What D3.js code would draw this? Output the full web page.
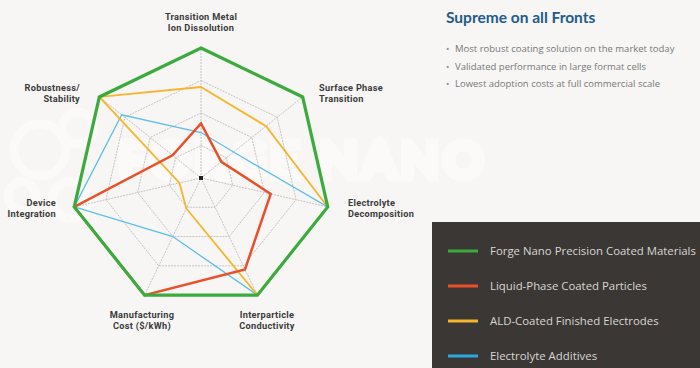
<!DOCTYPE html>
<html>
<head>
<meta charset="utf-8">
<script src="https://cdn.jsdelivr.net/npm/d3@7"></script>
<style>
  html, body { margin: 0; padding: 0; background: #f7f6f4; }
  #chart { width: 700px; height: 368px; }
</style>
</head>
<body>
<div id="chart"></div>
<script>
// Axes, clockwise from the top
const axes = [
    ["Transition Metal", "Ion Dissolution"],
    ["Surface Phase", "Transition"],
    ["Electrolyte", "Decomposition"],
    ["Interparticle", "Conductivity"],
    ["Manufacturing", "Cost ($/kWh)"],
    ["Device", "Integration"],
    ["Robustness/", "Stability"]
];

const seriesNames = [
    "Forge Nano Precision Coated Materials",
    "Liquid-Phase Coated Particles",
    "ALD-Coated Finished Electrodes",
    "Electrolyte Additives"
];
const seriesColors = ["#3aab3c", "#e9502a", "#f6b52a", "#5cbfe8"];

// Values on a 0-100 scale, one per axis
const forgeValues = [100, 100, 100, 100, 100, 100, 100];
const liquidValues = [42, 20, 55, 78, 100, 100, 28];
const aldValues = [70, 64, 100, 100, 26, 17, 100];
const electrolyteValues = [35, 32, 100, 100, 50, 100, 78];

const gridLevels = [25, 50, 75, 100];

const bullets = [
    "Most robust coating solution on the market today",
    "Validated performance in large format cells",
    "Lowest adoption costs at full commercial scale"
];

const width = 700, height = 368;
const cx = 201, cy = 178, radius = 130;

const svg = d3.select("#chart")
    .append("svg")
    .attr("width", width)
    .attr("height", height)
    .style("display", "block");

svg.append("rect")
    .attr("width", width)
    .attr("height", height)
    .attr("fill", "#f7f6f4");

// faint watermark
const wm = svg.append("g").attr("opacity", 0.5);
[[40, 150, 26], [78, 128, 16], [22, 196, 14], [70, 200, 18]].forEach(c => {
    wm.append("circle").attr("cx", c[0]).attr("cy", c[1]).attr("r", c[2])
        .attr("fill", "none").attr("stroke", "#ffffff").attr("stroke-width", 9);
});
wm.append("text")
    .attr("x", 118)
    .attr("y", 178)
    .attr("fill", "none")
    .attr("stroke", "#ffffff")
    .attr("stroke-width", 7)
    .style("font-family", "Lato, sans-serif")
    .style("font-size", "50px")
    .style("font-weight", "700")
    .style("letter-spacing", "4px")
    .text("FORGE NANO");

const angleScale = d3.scaleLinear()
    .domain([0, axes.length])
    .range([0, 2 * Math.PI]);

const rScale = d3.scaleLinear()
    .domain([0, 100])
    .range([0, radius]);

const g = svg.append("g")
    .attr("transform", `translate(${cx},${cy})`);

const point = (i, v) => {
    const a = angleScale(i);
    return [rScale(v) * Math.sin(a), -rScale(v) * Math.cos(a)];
};

// grid heptagons
gridLevels.forEach(level => {
    g.append("path")
        .attr("d", d3.line()(axes.map((a, i) => point(i, level))) + "Z")
        .attr("fill", "none")
        .attr("stroke", "#c4c4c4")
        .attr("stroke-width", 1)
        .attr("stroke-dasharray", "2,1");
});

// spokes
axes.forEach((a, i) => {
    const p = point(i, 100);
    g.append("line")
        .attr("x1", 0).attr("y1", 0)
        .attr("x2", p[0]).attr("y2", p[1])
        .attr("stroke", "#c4c4c4")
        .attr("stroke-width", 1)
        .attr("stroke-dasharray", "2,1");
});

g.append("rect")
    .attr("x", -2).attr("y", -2)
    .attr("width", 4).attr("height", 4)
    .attr("fill", "#222");

// series, drawn back to front
const allSeries = [
    { values: electrolyteValues, color: seriesColors[3], w: 1.3 },
    { values: aldValues, color: seriesColors[2], w: 1.8 },
    { values: liquidValues, color: seriesColors[1], w: 2.5 },
    { values: forgeValues, color: seriesColors[0], w: 3.2 }
];

allSeries.forEach(s => {
    g.append("path")
        .attr("d", d3.line()(s.values.map((v, i) => point(i, v))) + "Z")
        .attr("fill", "none")
        .attr("stroke", s.color)
        .attr("stroke-width", s.w)
        .attr("stroke-linejoin", "miter");
});

// axis labels
const labelPos = [
    { x: 0, y: -158, anchor: "middle" },
    { x: 118, y: -87, anchor: "start" },
    { x: 147, y: 28, anchor: "start" },
    { x: 66, y: 140, anchor: "middle" },
    { x: -59, y: 140, anchor: "middle" },
    { x: -145, y: 28, anchor: "end" },
    { x: -121, y: -87, anchor: "end" }
];

axes.forEach((lines, i) => {
    lines.forEach((l, j) => {
        g.append("text")
            .attr("x", labelPos[i].x)
            .attr("y", labelPos[i].y + j * 11)
            .attr("text-anchor", labelPos[i].anchor)
            .attr("fill", "#3b3b3b")
            .style("font-family", "Roboto, sans-serif")
            .style("font-size", "9.2px")
            .style("font-weight", "700")
            .style("letter-spacing", "0.3px")
            .text(l);
    });
});

// right panel title and bullets
svg.append("text")
    .attr("x", 446)
    .attr("y", 23)
    .attr("fill", "#225b8c")
    .style("font-family", "Lato, sans-serif")
    .style("font-size", "15.5px")
    .style("font-weight", "700")
    .text("Supreme on all Fronts");

bullets.forEach((b, i) => {
    const y = 52 + i * 17.5;
    svg.append("text")
        .attr("x", 446).attr("y", y)
        .attr("fill", "#8a8a8a")
        .style("font-family", "'Open Sans', sans-serif")
        .style("font-size", "9px")
        .text("•");
    svg.append("text")
        .attr("x", 455).attr("y", y)
        .attr("fill", "#777777")
        .style("font-family", "'Open Sans', sans-serif")
        .style("font-size", "9.5px")
        .text(b);
});

// legend box
svg.append("rect")
    .attr("x", 432).attr("y", 222)
    .attr("width", 268).attr("height", 146)
    .attr("fill", "#3b3734");

seriesNames.forEach((name, i) => {
    const y = 251 + i * 35;
    svg.append("line")
        .attr("x1", 448).attr("x2", 478)
        .attr("y1", y).attr("y2", y)
        .attr("stroke", i === 3 ? "#28a9e2" : seriesColors[i])
        .attr("stroke-width", 3);
    svg.append("text")
        .attr("x", 490).attr("y", y + 4)
        .attr("fill", "#d9d6d2")
        .style("font-family", "'Open Sans', sans-serif")
        .style("font-size", "11.4px")
        .text(name);
});
</script>
</body>
</html>
